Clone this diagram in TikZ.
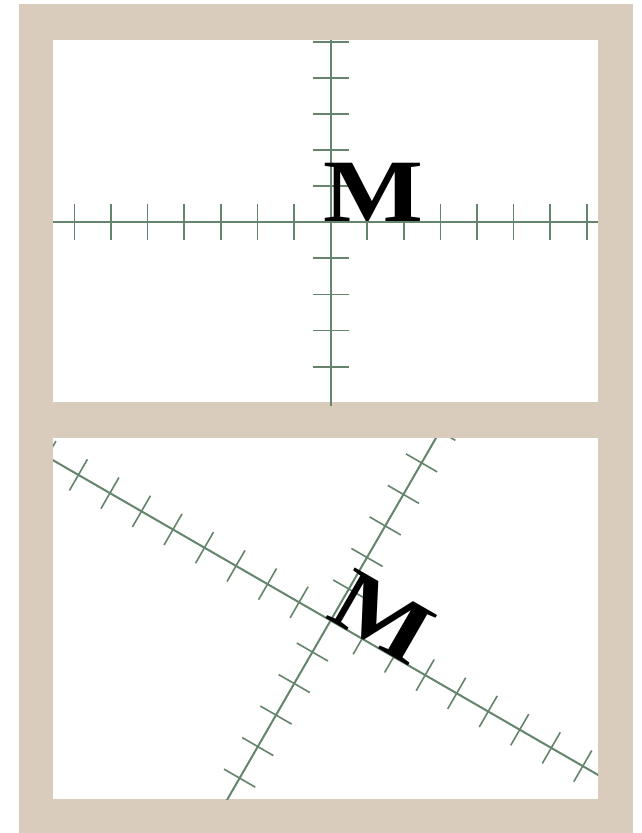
\documentclass[tikz,border=0pt]{standalone}
\usepackage{fontspec}
\setmainfont{Liberation Serif}
\definecolor{framecol}{RGB}{217,204,188}
\definecolor{axiscol}{RGB}{100,132,108}
\begin{document}
\begin{tikzpicture}[x=1pt,y=-1pt,
  axisline/.style={draw=axiscol,line width=2pt},
  tickline/.style={draw=axiscol,line width=1.6pt},
  letter/.style={inner sep=0pt,anchor=base west,font=\fontsize{89}{89}\selectfont\bfseries}]
\useasboundingbox (0,0) rectangle (641,833);
\fill[white] (0,0) rectangle (641,833);
\fill[framecol] (19,4) rectangle (633,833);
\fill[white] (53,40) rectangle (598,402);
\fill[white] (53,438) rectangle (598,799);
% top panel: upright axes
\begin{scope}[shift={(330.6,221.7)}]
  \coordinate (otop) at (0,0);
  \draw[axisline] (-277.6,0) -- (267.4,0);
  \draw[axisline] (0,-181.7) -- (0,184);
  \foreach \k in {1,...,7} {
    \draw[tickline] (\k*36.6,-18) -- (\k*36.6,18);
    \draw[tickline] (-\k*36.6,-18) -- (-\k*36.6,18);
  }
  \foreach \k in {1,...,5} \draw[tickline] (-18,-\k*36.0) -- (18,-\k*36.0);
  \foreach \k in {1,...,4} \draw[tickline] (-18,\k*36.3) -- (18,\k*36.3);
  \node[letter] (mtop) at (-7,0) {\scalebox{1.19}[1]{M}};
\end{scope}
% bottom panel: same axes turned 30 degrees clockwise
\begin{scope}
  \clip (53,438) rectangle (598,799);
  \begin{scope}[shift={(330.6,620.5)},rotate=-30,transform shape]
    \coordinate (obot) at (0,0);
    \draw[axisline] (-420,0) -- (420,0);
    \draw[axisline] (0,-420) -- (0,420);
    \foreach \k in {1,...,11} {
      \draw[tickline] (\k*36.4,-18) -- (\k*36.4,18);
      \draw[tickline] (-\k*36.4,-18) -- (-\k*36.4,18);
      \draw[tickline] (-18,\k*36.4) -- (18,\k*36.4);
      \draw[tickline] (-18,-\k*36.4) -- (18,-\k*36.4);
    }
    \node[letter] (mbot) at (-7,0) {\scalebox{1.19}[1]{M}};
  \end{scope}
\end{scope}
\end{tikzpicture}
\end{document}
